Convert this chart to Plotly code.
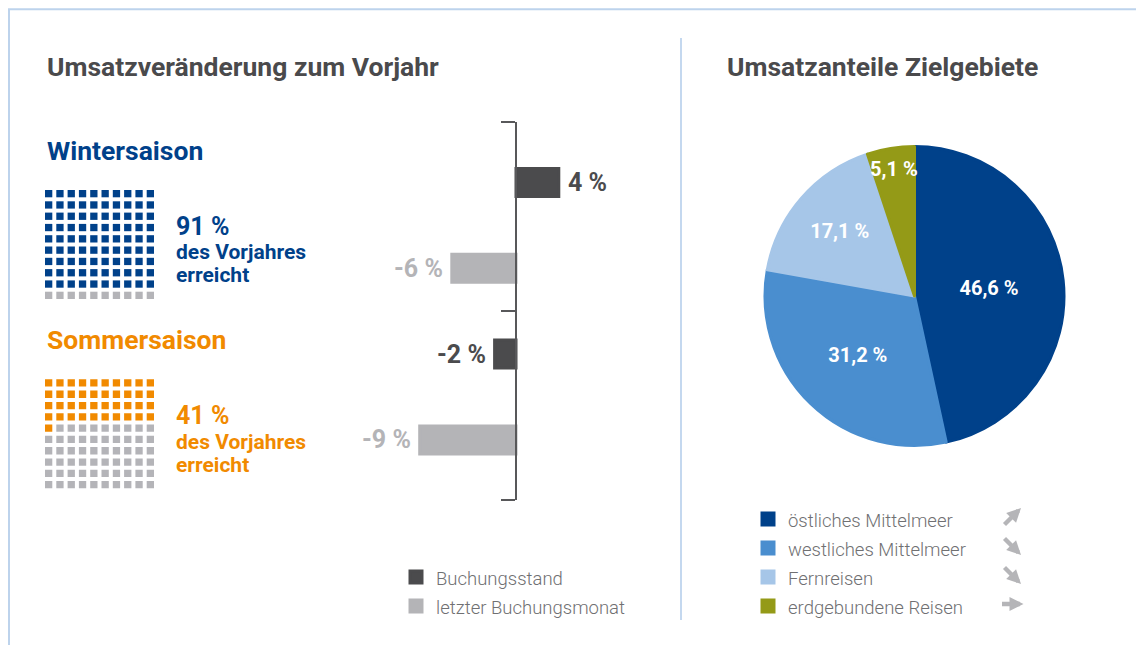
import plotly.graph_objects as go

# page offset: the browser body has an 8px margin, so the figure starts at (8, 8)
OFF = 8
W, H = 1136, 637

# ---------------- data ----------------
seasons = ["Wintersaison", "Sommersaison"]
season_pct = [91, 41]                 # % des Vorjahres erreicht
waffle_filled = [90, 41]              # coloured squares shown in the waffle (of 100)
season_colors = ["#00418a", "#f18a00"]
waffle_gray = "#b4b4b8"

bar_series = ["Buchungsstand", "letzter Buchungsmonat"]
bar_buchungsstand = [4, -2]           # Winter, Sommer
bar_letzter_monat = [-6, -9]          # Winter, Sommer
bar_colors = ["#4b4b4d", "#b4b4b7"]

pie_labels = ["östliches Mittelmeer", "westliches Mittelmeer", "Fernreisen", "erdgebundene Reisen"]
pie_values = [46.6, 31.2, 17.1, 5.1]
pie_colors = ["#00418a", "#4a8ecf", "#a6c6e8", "#949a17"]
pie_trends = ["steigend", "fallend", "fallend", "gleich"]

FONT = "Roboto"
TITLE_COLOR = "#4a4a4c"
LEGEND_TEXT = 18.5


def px(x):          # page pixel -> paper x
    return (x - OFF) / W


def py(y):          # page pixel -> paper y
    return 1 - (y - OFF) / H


def legend_label(t):
    return f'<span style="font-size:{LEGEND_TEXT}px">{t}</span>'


fig = go.Figure()

# ---------------- waffles ----------------
for s in range(len(seasons)):
    xa = "x3" if s == 0 else "x4"
    ya = "y3" if s == 0 else "y4"
    on_x, on_y, off_x, off_y = [], [], [], []
    for idx in range(100):
        r, c = divmod(idx, 10)
        if idx < waffle_filled[s]:
            on_x.append(c); on_y.append(r)
        else:
            off_x.append(c); off_y.append(r)
    for xs, ys, col in ((on_x, on_y, season_colors[s]), (off_x, off_y, waffle_gray)):
        fig.add_trace(go.Scatter(
            x=xs, y=ys, xaxis=xa, yaxis=ya, mode="markers",
            marker=dict(symbol="square", size=7.3, color=col, line=dict(width=0)),
            showlegend=False, hoverinfo="skip"))

# ---------------- bars ----------------
for k, (name, vals) in enumerate(zip(bar_series, [bar_buchungsstand, bar_letzter_monat])):
    ys = [2 * g + k for g in range(len(vals))]
    fig.add_trace(go.Bar(
        x=vals, y=ys, orientation="h", name=legend_label(name), width=0.326,
        marker=dict(color=bar_colors[k], line=dict(color=bar_colors[k], width=3)),
        xaxis="x", yaxis="y", legend="legend",
        hovertemplate=name + ": %{x} %<extra></extra>"))
    for v, yv in zip(vals, ys):
        fig.add_annotation(
            x=v, y=yv, xref="x", yref="y", text=f"{v} %",
            xanchor="left" if v > 0 else "right", xshift=7 if v > 0 else -7,
            showarrow=False,
            font=dict(family=FONT, size=25, color=bar_colors[k], weight="bold"))

# ---------------- pie ----------------
fig.add_trace(go.Pie(
    labels=[legend_label(l) for l in pie_labels], values=pie_values,
    sort=False, direction="clockwise", rotation=0,
    marker=dict(colors=pie_colors, line=dict(color=pie_colors, width=3)),
    texttemplate="%{value:.1f} %", textposition="inside", insidetextorientation="horizontal",
    textfont=dict(family=FONT, size=20, color="white", weight="bold"),
    domain=dict(x=[px(765), px(1064)], y=[py(445.5), py(146.5)]),
    legend="legend2", hovertemplate="%{value:.1f} %<extra></extra>"))

# ---------------- axes ----------------
xr = [-12, 8]
xdom = [px(387.6), px(601.6)]
zero_pos = xdom[0] + (0 - xr[0]) / (xr[1] - xr[0]) * (xdom[1] - xdom[0])

fig.update_layout(
    xaxis=dict(domain=xdom, range=xr, visible=False, fixedrange=True),
    yaxis=dict(domain=[py(500.4), py(122.0)], range=[3.705, -0.705], anchor="free",
               position=zero_pos, showline=True, linecolor="#58585a", linewidth=1.5,
               ticks="outside", ticklen=14, tickwidth=1.5, tickcolor="#58585a",
               tickmode="array", tickvals=[-0.7, 1.5, 3.7], showticklabels=False,
               showgrid=False, zeroline=False, fixedrange=True),
    xaxis3=dict(domain=[px(43), px(156)], range=[-0.5, 9.5], visible=False, anchor="y3", fixedrange=True),
    yaxis3=dict(domain=[py(301), py(188)], range=[9.5, -0.5], visible=False, anchor="x3", fixedrange=True),
    xaxis4=dict(domain=[px(43), px(156)], range=[-0.5, 9.5], visible=False, anchor="y4", fixedrange=True),
    yaxis4=dict(domain=[py(490.3), py(377.3)], range=[9.5, -0.5], visible=False, anchor="x4", fixedrange=True),
)

# ---------------- texts ----------------
def note(x, y, text, size, color, bold=True, anchor="left"):
    fig.add_annotation(x=px(x), y=py(y), xref="paper", yref="paper", text=text,
                       xanchor=anchor, yanchor="middle", showarrow=False,
                       font=dict(family=FONT, size=size, color=color,
                                 weight="bold" if bold else "normal"))

note(45, 66, "Umsatzveränderung zum Vorjahr", 26.5, TITLE_COLOR)
note(725, 66, "Umsatzanteile Zielgebiete", 26.5, TITLE_COLOR)

season_title_y = [150, 339]
season_text_y = [(226, 252, 275), (415, 442, 465)]
for s in range(len(seasons)):
    note(45, season_title_y[s], seasons[s], 26.5, season_colors[s])
    y1, y2, y3 = season_text_y[s]
    note(174, y1, f"{season_pct[s]} %", 25, season_colors[s])
    note(174, y2, "des Vorjahres", 21, season_colors[s])
    note(174, y3, "erreicht", 21, season_colors[s])

# trend arrows beside the pie legend
trend_dir = {"steigend": (1, -1), "fallend": (1, 1), "gleich": (1, 0)}
for i, tr in enumerate(pie_trends):
    dx, dy = trend_dir[tr]
    cx, cy = 1012, 517 + 29 * i
    half = 9 if dy else 11.5
    fig.add_annotation(x=px(cx + half * dx), y=py(cy + half * dy), xref="paper", yref="paper",
                       ax=-2 * half * dx, ay=-2 * half * dy, text="", showarrow=True,
                       arrowhead=2, arrowsize=0.65, arrowwidth=4.3, arrowcolor="#b5b5b8")

# ---------------- frame ----------------
frame = "#bdd3ec"
shapes = [
    dict(type="line", xref="paper", yref="paper", x0=px(9), x1=px(9), y0=py(9), y1=0, line=dict(color=frame, width=2)),
    dict(type="line", xref="paper", yref="paper", x0=px(8), x1=px(1141), y0=py(9.2), y1=py(9.2), line=dict(color=frame, width=2)),
    dict(type="line", xref="paper", yref="paper", x0=px(1140.2), x1=px(1140.2), y0=py(9), y1=0, line=dict(color=frame, width=2)),
    dict(type="line", xref="paper", yref="paper", x0=px(681), x1=px(681), y0=py(38), y1=py(620), line=dict(color="#c4d8ef", width=2)),
]

legend_font = dict(family=FONT, size=20, color="#707072", weight=300)
fig.update_layout(
    width=W, height=H, autosize=False,
    margin=dict(l=0, r=0, t=0, b=0),
    paper_bgcolor="white", plot_bgcolor="white",
    separators=",.",
    uniformtext=dict(minsize=20, mode="show"),
    shapes=shapes,
    barmode="overlay",
    legend=dict(x=px(396), y=py(557.5), xanchor="left", yanchor="top",
                font=legend_font, bgcolor="rgba(0,0,0,0)", borderwidth=0),
    legend2=dict(x=px(748), y=py(499.5), xanchor="left", yanchor="top",
                 font=legend_font, bgcolor="rgba(0,0,0,0)", borderwidth=0),
    showlegend=True,
)

fig.write_html("out.html", config={"displayModeBar": False})
